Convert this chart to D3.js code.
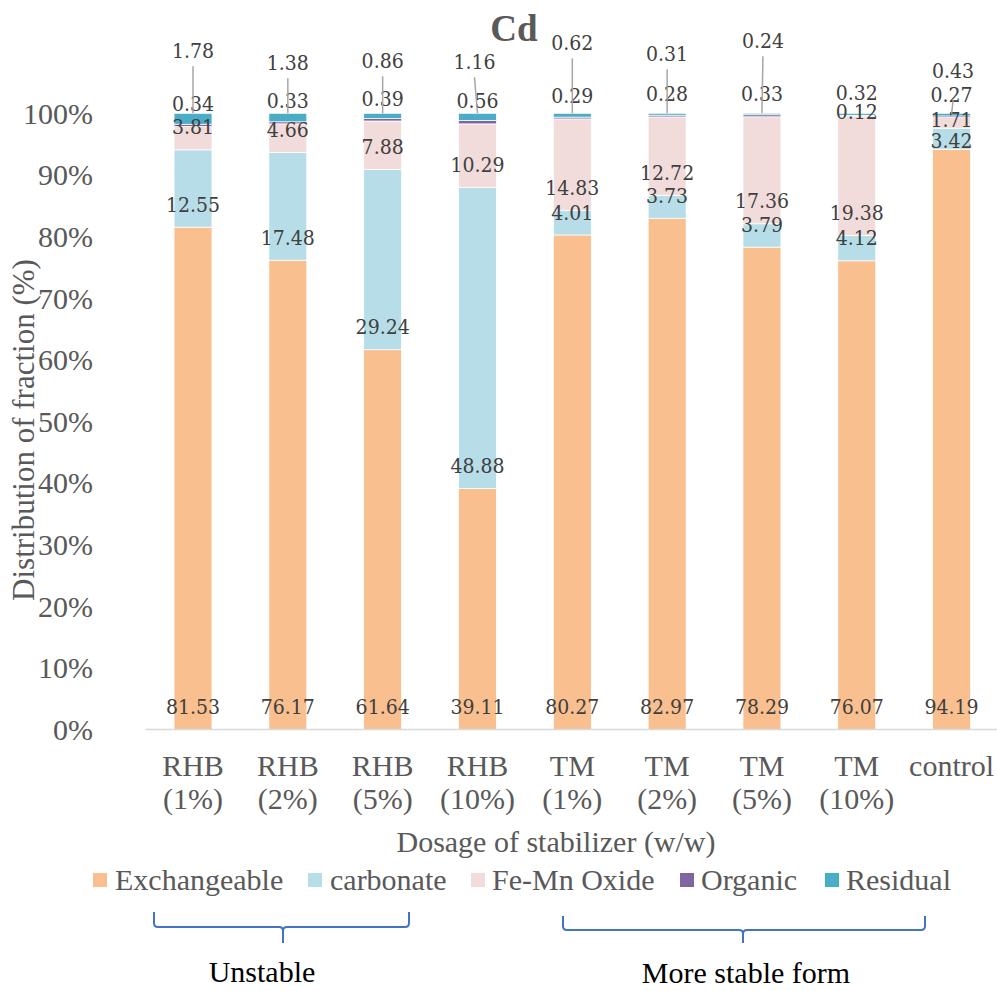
<!DOCTYPE html>
<html>
<head>
<meta charset="utf-8">
<script src="https://cdn.jsdelivr.net/npm/d3@7"></script>
<style>
  html, body { margin: 0; padding: 0; background: #fff; }
  svg { display: block; }
</style>
</head>
<body>
<script>
// Cd fractionation under different stabilizer dosages (100% stacked)
const categories = ["RHB (1%)", "RHB (2%)", "RHB (5%)", "RHB (10%)", "TM (1%)", "TM (2%)", "TM (5%)", "TM (10%)", "control"];
const seriesNames = ["Exchangeable", "carbonate", "Fe-Mn Oxide", "Organic", "Residual"];
const exchangeable = [81.53, 76.17, 61.64, 39.11, 80.27, 82.97, 78.29, 76.07, 94.19];
const carbonate    = [12.55, 17.48, 29.24, 48.88, 4.01, 3.73, 3.79, 4.12, 3.42];
const feMnOxide    = [3.81, 4.66, 7.88, 10.29, 14.83, 12.72, 17.36, 19.38, 1.71];
const organic      = [0.34, 0.33, 0.39, 0.56, 0.29, 0.28, 0.33, 0.12, 0.27];
const residual     = [1.78, 1.38, 0.86, 1.16, 0.62, 0.31, 0.24, 0.32, 0.43];
const yTicks = [0, 0.1, 0.2, 0.3, 0.4, 0.5, 0.6, 0.7, 0.8, 0.9, 1];

const colors = ["#F9BF8F", "#B7DEE8", "#F2DCDB", "#8064A2", "#4BACC6"];

// label layout: residual labels lifted above the bar with leader lines
const residualLift = [63, 51, 53, 52, 71, 60, 73, null, 43];
const residualDx   = [0, 0, 0, -3, 0, 0, 1, 0, 1.5];
const leaderGap    = [16, 16, 16, 16, 16, 16, 16, null, 30];
// small vertical nudges (px) for crowded labels: [seriesIndex, categoryIndex, dy]
const labelNudges = [[3, 7, 18], [2, 8, 14], [1, 8, 14]];

const W = 997, H = 991;
const serif = "'Liberation Serif','Times New Roman',Times,serif";
const labelFont = "'DejaVu Serif Condensed','DejaVu Serif',serif";
const textGray = "#595959";

const svg = d3.select("body").append("svg").attr("width", W).attr("height", H);

const rows = categories.map((c, i) => ({
  cat: c,
  "Exchangeable": exchangeable[i],
  "carbonate": carbonate[i],
  "Fe-Mn Oxide": feMnOxide[i],
  "Organic": organic[i],
  "Residual": residual[i]
}));
const rawBySeries = [exchangeable, carbonate, feMnOxide, organic, residual];

const stacked = d3.stack().keys(seriesNames).offset(d3.stackOffsetExpand)(rows);

const x = d3.scaleBand().domain(categories).range([145.6, 999]).paddingInner(0.6).paddingOuter(0.3);
const y = d3.scaleLinear().domain([0, 1]).range([729.5, 113.3]);

// title
svg.append("text").attr("x", 514).attr("y", 41).attr("text-anchor", "middle")
  .attr("font-family", serif).attr("font-weight", "bold").attr("font-size", 37)
  .attr("fill", textGray).text("Cd");

// y axis (labels only)
const yAxis = svg.append("g").attr("transform", "translate(93,0)")
  .call(d3.axisLeft(y).tickValues(yTicks).tickFormat(d3.format(".0%")).tickSize(0).tickPadding(0));
yAxis.select(".domain").remove();
yAxis.selectAll("text").attr("font-family", serif).attr("font-size", 30).attr("fill", textGray).attr("dy", "0.33em");

// bars
const layer = svg.append("g").selectAll("g").data(stacked).join("g").attr("fill", (d, i) => colors[i]);
layer.selectAll("rect").data(d => d).join("rect")
  .attr("x", d => x(d.data.cat))
  .attr("width", x.bandwidth())
  .attr("y", d => y(d[1]))
  .attr("height", d => y(d[0]) - y(d[1]))
  .attr("stroke", "#fff").attr("stroke-width", 0.75);

// x axis
const xAxis = svg.append("g").attr("transform", "translate(0,729.5)")
  .call(d3.axisBottom(x).tickSize(0).tickFormat(""));
xAxis.select(".domain").attr("stroke", "#D9D9D9").attr("stroke-width", 1.3).attr("d", "M145.6,0H999");
xAxis.selectAll(".tick").each(function(c) {
  const parts = c.split(" ");
  const t = d3.select(this).append("text").attr("font-family", serif).attr("font-size", 30)
    .attr("fill", textGray).attr("text-anchor", "middle");
  parts.forEach((p, k) => t.append("tspan").attr("x", 0).attr("y", 46 + k * 33).text(p));
});

// axis titles
svg.append("text").attr("x", 556).attr("y", 852).attr("text-anchor", "middle")
  .attr("font-family", serif).attr("font-size", 30).attr("fill", textGray).text("Dosage of stabilizer (w/w)");
svg.append("text").attr("transform", "translate(34,430) rotate(-90)").attr("text-anchor", "middle")
  .attr("font-family", serif).attr("font-size", 31).attr("fill", textGray).text("Distribution of fraction (%)");

// data labels
const labels = svg.append("g").attr("font-family", labelFont).attr("font-stretch", "condensed")
  .attr("font-size", 21).attr("fill", "#404040").attr("text-anchor", "middle");
const leaders = svg.append("g").attr("stroke", "#A6A6A6").attr("stroke-width", 1.5);

stacked.forEach((s, si) => {
  s.forEach((d, ci) => {
    const cx = x(d.data.cat) + x.bandwidth() / 2;
    let ly = y(d[0]) - 23;
    let lx = cx;
    if (si === 4 && residualLift[ci] !== null) {
      ly = y(1) - residualLift[ci];
      lx = cx + residualDx[ci];
      leaders.append("line")
        .attr("x1", lx).attr("y1", ly + leaderGap[ci])
        .attr("x2", cx).attr("y2", y(1));
    }
    labelNudges.forEach(n => { if (n[0] === si && n[1] === ci) ly += n[2]; });
    labels.append("text").attr("x", lx).attr("y", ly).attr("dy", "0.36em")
      .text(d3.format(".2f")(rawBySeries[si][ci]));
  });
});

// legend
const legendPos = [[93, 115], [308, 330], [471, 492], [680, 701], [825, 846]];
const legend = svg.append("g");
seriesNames.forEach((n, i) => {
  legend.append("rect").attr("x", legendPos[i][0]).attr("y", 873).attr("width", 14).attr("height", 14).attr("fill", colors[i]);
  legend.append("text").attr("x", legendPos[i][1]).attr("y", 890)
    .attr("font-family", serif).attr("font-size", 30).attr("fill", textGray).text(n);
});

// group brackets
function bracket(left, right, top, line, tipX, bottom) {
  const r = 4;
  return `M${left},${top}V${line - r}Q${left},${line} ${left + r},${line}H${tipX - r}Q${tipX},${line} ${tipX},${line + r}V${bottom}` +
         `M${tipX},${line + r}Q${tipX},${line} ${tipX + r},${line}H${right - r}Q${right},${line} ${right},${line - r}V${top}`;
}
svg.append("path").attr("d", bracket(154, 409, 912, 927, 283, 943))
  .attr("fill", "none").attr("stroke", "#4472C4").attr("stroke-width", 2);
svg.append("path").attr("d", bracket(563, 925, 916, 930, 743, 943))
  .attr("fill", "none").attr("stroke", "#4472C4").attr("stroke-width", 2);

svg.append("text").attr("x", 262).attr("y", 982).attr("text-anchor", "middle")
  .attr("font-family", serif).attr("font-size", 30).attr("fill", "#000").text("Unstable");
svg.append("text").attr("x", 746).attr("y", 983).attr("text-anchor", "middle")
  .attr("font-family", serif).attr("font-size", 30).attr("fill", "#000").text("More stable form");
</script>
</body>
</html>
